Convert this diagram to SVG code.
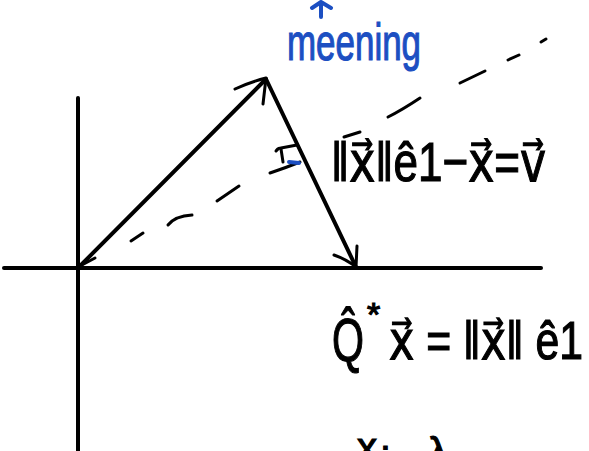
<svg xmlns="http://www.w3.org/2000/svg" width="589" height="451" viewBox="0 0 589 451">
<style>
.ink{fill:none;stroke:#000;stroke-width:4;stroke-linecap:round;stroke-linejoin:round}
.thin{fill:none;stroke:#000;stroke-width:3;stroke-linecap:round;stroke-linejoin:round}
.blue{fill:none;stroke:#1c4fc2;stroke-width:4;stroke-linecap:round;stroke-linejoin:round}
.eq{font-family:"Liberation Sans","DejaVu Sans",sans-serif;fill:#000;stroke:#000;stroke-width:1.2}
.lbl{font-family:"Liberation Sans","DejaVu Sans",sans-serif;fill:#1c4fc2;stroke:#1c4fc2;stroke-width:1.2}
</style>
<rect width="589" height="451" fill="#fff"/>
<g id="axes">
<path class="ink" d="M78 98 L78 451"/>
<path class="ink" d="M4 268 L541 268"/>
</g>
<g id="connectors">
<g id="vector-x">
<path class="ink" d="M79 267 L266 79"/>
<path class="thin" d="M235 89 Q250 82 266 78 L263 104"/>
<path class="thin" d="M80 266 L95 258"/>
</g>
<g id="vector-v">
<path class="ink" d="M266 79 L356 267"/>
<path class="thin" d="M334 255 Q346 259 356 267 L357 246"/>
</g>
<g id="projection-line">
<path class="thin" d="M131 241 L143 233"/>
<path class="thin" d="M168 225 Q175 216 192 215"/>
<path class="thin" d="M217 201 L239 186"/>
<path class="thin" d="M270 173 Q285 168 300 162"/>
<path class="thin" d="M344 137 L360 132"/>
<path class="thin" d="M388 117 Q402 110 420 98"/>
<path class="thin" d="M460 83 L485 71"/>
<path class="thin" d="M508 60 L519 55"/>
<path class="thin" d="M541 42 L546 39"/>
</g>
<g id="right-angle">
<path class="thin" d="M276 151 Q279 147 281 149 L283 162"/>
<path class="thin" d="M281 148 L297 145"/>
<path class="blue" d="M289 162 L299 163"/>
</g>
</g>
<g id="meaning-label">
<path class="blue" d="M321 17 L321 3 M312 8 L321 2 L331 8"/>
<text class="lbl" x="287" y="60" font-size="52" textLength="134" lengthAdjust="spacingAndGlyphs">meening</text>
</g>
<g id="equation-v">
<text class="eq" x="331" y="181" font-size="56" textLength="215" lengthAdjust="spacingAndGlyphs">‖x⃗‖ê1−x⃗=v⃗</text>
</g>
<g id="equation-q">
<text class="eq" x="332" y="361" font-size="62" textLength="32" lengthAdjust="spacingAndGlyphs">Q̂</text>
<text class="eq" x="367" y="326" font-size="34">*</text>
<text class="eq" x="389" y="359" font-size="54" textLength="194" lengthAdjust="spacingAndGlyphs">x⃗ = ‖x⃗‖ ê1</text>
</g>
<g id="cut-off-text">
<text class="eq" font-size="40"><tspan x="357" y="461">x</tspan><tspan x="381" y="476">i</tspan><tspan x="428" y="466">λ</tspan></text>
</g>
</svg>
